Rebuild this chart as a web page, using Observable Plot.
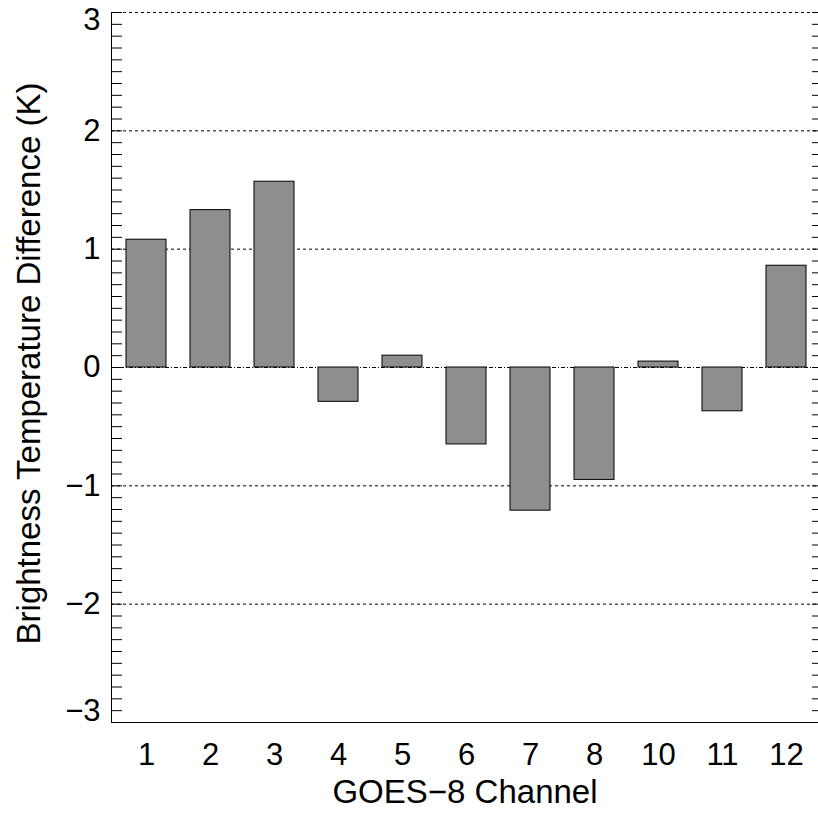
<!DOCTYPE html>
<html>
<head>
<meta charset="utf-8">
<script src="https://cdn.jsdelivr.net/npm/d3@7"></script>
<script src="https://cdn.jsdelivr.net/npm/@observablehq/plot@0.6"></script>
<style>
  html, body { margin: 0; padding: 0; background: #fff; }
</style>
</head>
<body>
<div id="chart"></div>
<script>
const channels = ["1", "2", "3", "4", "5", "6", "7", "8", "10", "11", "12"];
const diffs = [1.08, 1.33, 1.57, -0.29, 0.10, -0.65, -1.21, -0.95, 0.05, -0.37, 0.86];
const yMajorInner = [-2, -1, 0, 1, 2];
const yTopTick = [3];
const yBottomTick = [-3];
const gridDotted = [-2, -1, 1, 2, 3];
const gridZero = [0];
const yMinor = d3.range(-30, 31).map(i => i / 10);

const data = channels.map((c, i) => ({ch: c, v: diffs[i]}));
const font = "Liberation Sans, Arial, Helvetica, sans-serif";
const fmt = d => d < 0 ? "\u2212" + Math.abs(d) : String(d);
const FS = 31;
const TFS = 33;

const chart = Plot.plot({
  width: 818,
  height: 813,
  marginLeft: 111,
  marginRight: 0,
  marginTop: 12,
  marginBottom: 91,
  style: {fontFamily: font, fontSize: FS + "px", color: "black", background: "white"},
  x: {domain: channels, range: [111, 822], paddingInner: 0.37, paddingOuter: 0.185, axis: null},
  y: {domain: [-3, 3], axis: null},
  marks: [
    Plot.ruleY(gridDotted, {stroke: "black", strokeWidth: 1, strokeDasharray: "3,3"}),
    Plot.ruleY(gridZero, {stroke: "black", strokeWidth: 1, strokeDasharray: "4,2,1,2"}),
    Plot.barY(data, {x: "ch", y: "v", fill: "#8e8e8e", stroke: "black", strokeWidth: 1}),
    Plot.axisY(yMinor, {anchor: "left", tickSize: -11, tickFormat: () => "", stroke: "black", label: null}),
    Plot.axisY(yMinor, {anchor: "right", tickSize: -11, tickFormat: () => "", stroke: "black", dx: 4, label: null}),
    Plot.axisY(yMajorInner, {anchor: "left", tickSize: 0, tickPadding: 11, tickFormat: fmt, fontSize: FS, label: null}),
    Plot.axisY(yTopTick, {anchor: "left", tickSize: 0, tickPadding: 11, tickFormat: fmt, fontSize: FS, label: null, dy: 8}),
    Plot.axisY(yBottomTick, {anchor: "left", tickSize: 0, tickPadding: 11, tickFormat: fmt, fontSize: FS, label: null, dy: -11}),
    Plot.axisX({anchor: "bottom", tickSize: 0, tickPadding: 20, fontSize: FS, label: null}),
    Plot.frame({anchor: "left", stroke: "black"}),
    Plot.frame({anchor: "bottom", stroke: "black"}),
    Plot.text(["GOES\u22128 Channel"], {frameAnchor: "bottom", lineAnchor: "bottom", textAnchor: "middle", dy: 80, fontSize: TFS}),
    Plot.text(["Brightness Temperature Difference (K)"], {frameAnchor: "left", lineAnchor: "bottom", textAnchor: "middle", rotate: -90, dx: -72, dy: -4, fontSize: TFS})
  ]
});
document.getElementById("chart").appendChild(chart);
</script>
</body>
</html>
